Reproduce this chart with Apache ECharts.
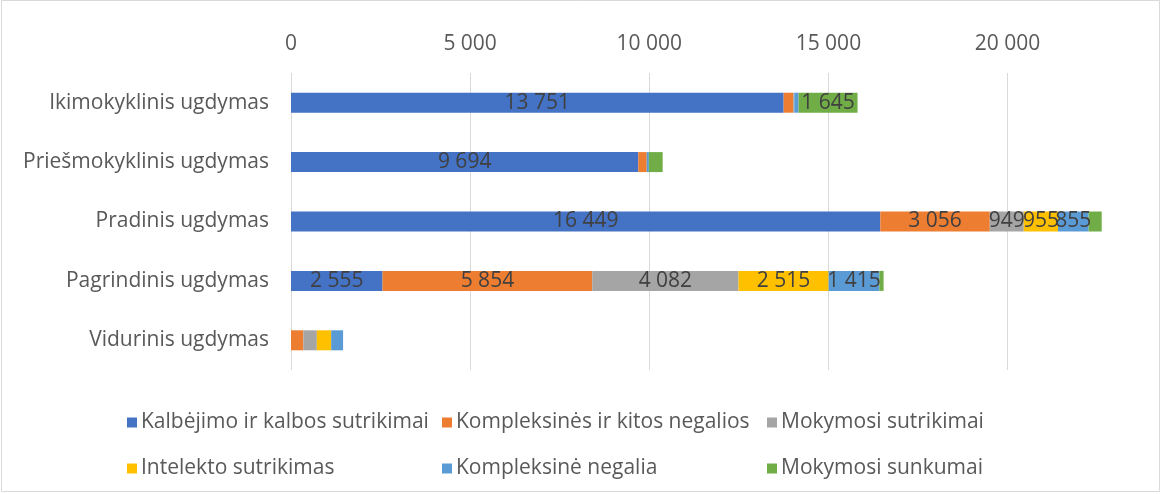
<!DOCTYPE html>
<html>
<head>
<meta charset="utf-8">
<script src="https://cdn.jsdelivr.net/npm/echarts@6/dist/echarts.min.js"></script>
<style>
html,body{margin:0;padding:0;background:#fff;}
#c{width:1165px;height:494px;}
</style>
</head>
<body>
<div id="c"></div>
<script>
const categories = ['Ikimokyklinis ugdymas','Priešmokyklinis ugdymas','Pradinis ugdymas','Pagrindinis ugdymas','Vidurinis ugdymas'];
const seriesNames = ['Kalbėjimo ir kalbos sutrikimai','Kompleksinės ir kitos negalios','Mokymosi sutrikimai','Intelekto sutrikimas','Kompleksinė negalia','Mokymosi sunkumai'];
const kalbejimo = [13751, 9694, 16449, 2555, 0];
const kompleksines = [267, 235, 3056, 5854, 344];
const mokymosiSutrikimai = [30, 0, 949, 4082, 377];
const intelekto = [0, 0, 955, 2515, 400];
const kompleksineNegalia = [120, 60, 855, 1415, 333];
const mokymosiSunkumai = [1645, 385, 365, 120, 0];
const colors = ['#4472C4','#ED7D31','#A5A5A5','#FFC000','#5B9BD5','#70AD47'];
const allValues = [kalbejimo, kompleksines, mokymosiSutrikimai, intelekto, kompleksineNegalia, mokymosiSunkumai];

const FONT = 'Open Sans';
const FS = 21;
function fmt(v){ return String(v).replace(/\B(?=(\d{3})+(?!\d))/g, ' '); }

const chart = echarts.init(document.getElementById('c'), null, {renderer:'canvas'});

const legendPos = [
  {left:127, top:412},{left:442, top:412},{left:767, top:412},
  {left:127, top:458},{left:442, top:458},{left:767, top:458}
];

const option = {
  backgroundColor:'#fff',
  animation:false,
  graphic:[{type:'rect', shape:{x:1.5,y:0.5,width:1158,height:491}, style:{fill:'none', stroke:'#d9d9d9', lineWidth:1}, silent:true}],
  legend: seriesNames.map((n,i)=>({
    data:[n], left:legendPos[i].left, top:legendPos[i].top, padding:0,
    icon:'rect', itemWidth:10, itemHeight:10, itemGap:4,
    textStyle:{fontFamily:FONT, fontSize:FS, color:'#595959', padding:[0,0,0,-1]},
    selectedMode:false
  })),
  grid:{left:291, top:73, width:824, height:297, containLabel:false},
  xAxis:{
    type:'value', position:'top', min:0, max:23000, interval:5000,
    axisLine:{show:false}, axisTick:{show:false},
    splitLine:{show:true, showMaxLine:false, lineStyle:{color:'#d9d9d9', width:1}},
    axisLabel:{fontFamily:FONT, fontSize:FS, color:'#595959', margin:18, showMaxLabel:false, formatter:v=>fmt(v)}
  },
  yAxis:{
    type:'category', data:categories, inverse:true,
    axisLine:{show:false}, axisTick:{show:false},
    axisLabel:{fontFamily:FONT, fontSize:FS, color:'#595959', margin:22}
  },
  series: seriesNames.map((n,i)=>({
    name:n, type:'bar', stack:'total', data:allValues[i], barWidth:20,
    itemStyle:{color:colors[i]},
    label:{show:true, position:'inside', fontFamily:FONT, fontSize:FS, color:'#404040',
      formatter:p=> p.value>=800 ? fmt(p.value) : ''}
  }))
};
chart.setOption(option);
</script>
</body>
</html>
